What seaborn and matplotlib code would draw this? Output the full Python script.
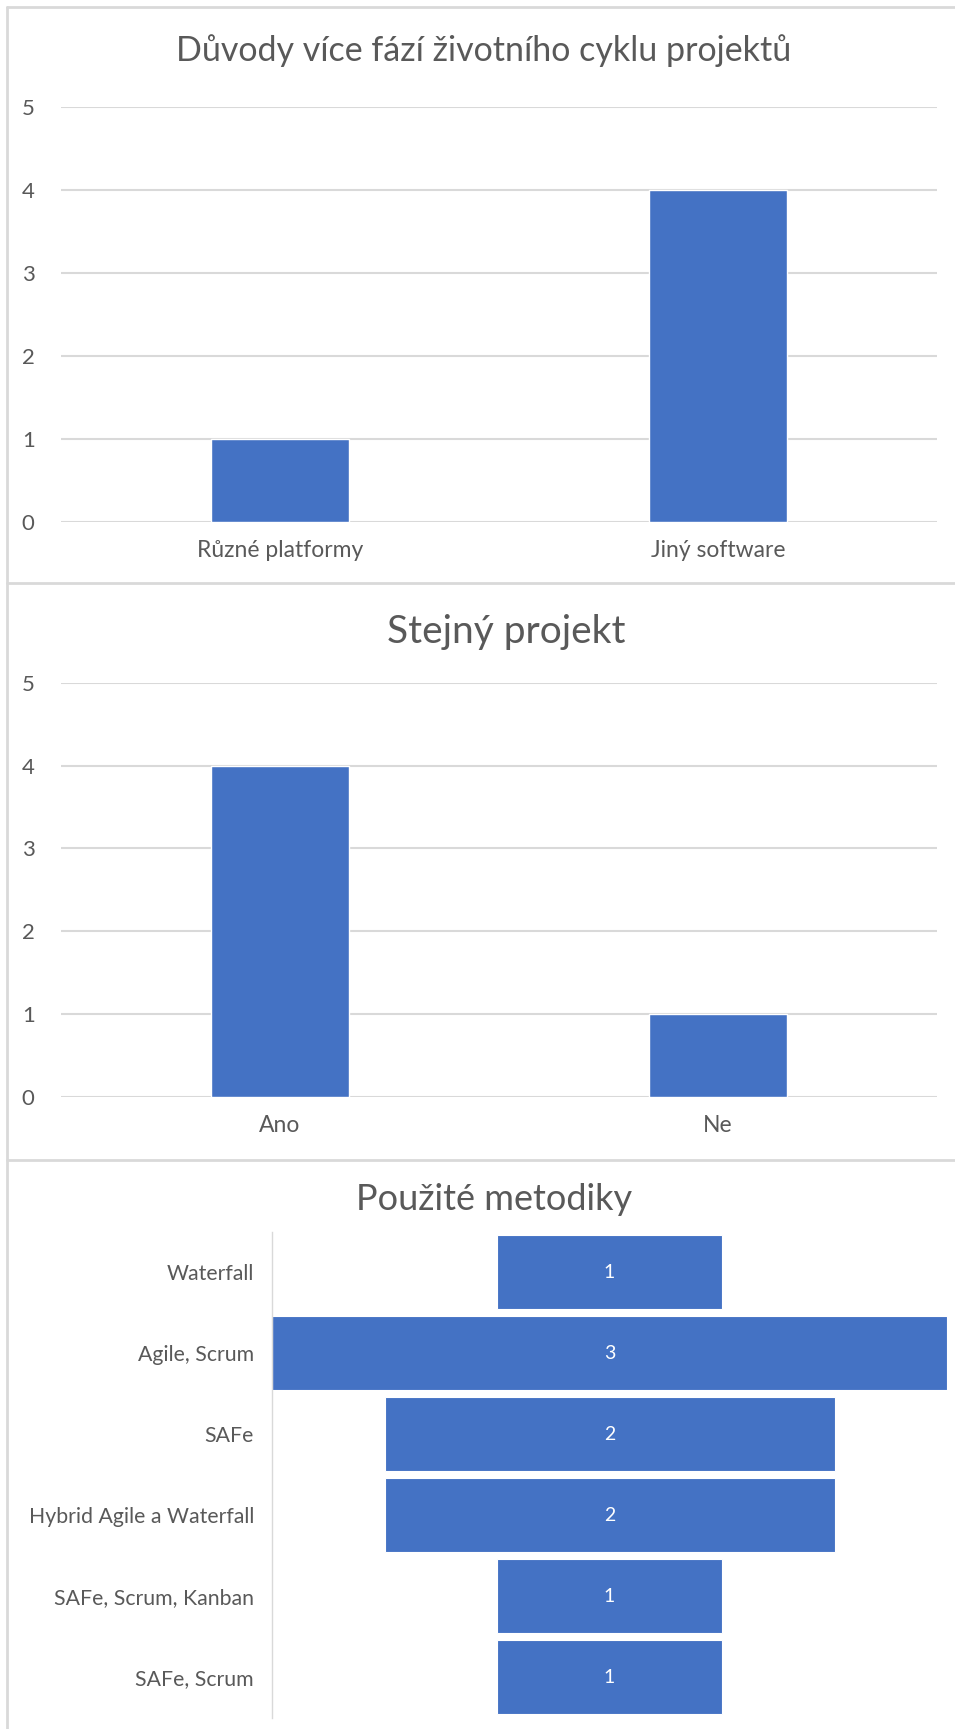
import matplotlib
matplotlib.use("Agg")
import matplotlib.pyplot as plt
import seaborn as sns
import pandas as pd
from matplotlib.lines import Line2D

# Data
duvody_labels = ["Různé platformy", "Jiný software"]
duvody_values = [1, 4]

stejny_labels = ["Ano", "Ne"]
stejny_values = [4, 1]

metodiky_labels = ["Waterfall", "Agile, Scrum", "SAFe", "Hybrid Agile a Waterfall",
                   "SAFe, Scrum, Kanban", "SAFe, Scrum"]
metodiky_values = [1, 3, 2, 2, 1, 1]

BLUE = "#4472C4"
GRID = "#D9D9D9"
TEXT = "#595959"

sns.set_style("white")
plt.rcParams["font.family"] = ["Lato", "DejaVu Sans"]

W, H = 955, 1729
fig = plt.figure(figsize=(W / 100, H / 100), dpi=100)


def column_panel(rect, labels, values, title, title_x, title_y, title_size):
    ax = fig.add_axes(rect)
    df = pd.DataFrame({"cat": labels, "val": values})
    sns.barplot(data=df, x="cat", y="val", color=BLUE, saturation=1, width=0.315, ax=ax)
    ax.set_xlim(-0.5, 1.5)
    ax.set_ylim(0, 5)
    ax.set_yticks(range(0, 6))
    ax.yaxis.grid(True, color=GRID, linewidth=1.5)
    ax.set_axisbelow(True)
    for s in ax.spines.values():
        s.set_visible(False)
    ax.set_xlabel("")
    ax.set_ylabel("")
    ax.tick_params(axis="x", length=0, pad=13, labelsize=16.5, labelcolor=TEXT)
    ax.tick_params(axis="y", length=0, pad=19, labelsize=16, labelcolor=TEXT)
    fig.text(title_x / W, 1 - title_y / H, title, ha="center", va="center",
             fontsize=title_size, color=TEXT)
    return ax


column_panel([61 / W, 1 - 521.6 / H, 876 / W, 414.6 / H],
             duvody_labels, duvody_values,
             "Důvody více fází životního cyklu projektů", 484, 51, 24.5)
column_panel([61 / W, 1 - 1097.3 / H, 876 / W, 414.7 / H],
             stejny_labels, stejny_values,
             "Stejný projekt", 506, 632, 28)

# Funnel panel
ax3 = fig.add_axes([272 / W, 1 - 1717.5 / H, 675 / W, 485.5 / H])
df3 = pd.DataFrame({"label": metodiky_labels, "val": metodiky_values})
sns.barplot(data=df3, x="val", y="label", orient="h", color=BLUE, saturation=1,
            width=0.915, ax=ax3)
vmax = max(metodiky_values)
for patch in ax3.patches:
    patch.set_x((vmax - patch.get_width()) / 2)
    patch.set_edgecolor("white")
    patch.set_linewidth(0.8)
ax3.bar_label(ax3.containers[0], label_type="center", color="white", fontsize=14)
ax3.set_xlim(0, vmax)
ax3.set_ylim(len(metodiky_values) - 0.5, -0.5)
for name, s in ax3.spines.items():
    s.set_visible(name == "left")
ax3.spines["left"].set_color(GRID)
ax3.spines["left"].set_linewidth(1.0)
ax3.spines["left"].set_linestyle((0, (2, 1)))
ax3.set_xticks([])
ax3.set_xlabel("")
ax3.set_ylabel("")
ax3.tick_params(axis="y", length=0, pad=13, labelsize=15.3, labelcolor=TEXT)
fig.text(494 / W, 1 - 1199 / H, "Použité metodiky", ha="center", va="center",
         fontsize=26, color=TEXT)

# Chart borders like stacked Excel charts
for y in (7, 583, 1160):
    fig.add_artist(Line2D([7 / W, 1], [1 - y / H, 1 - y / H], color=GRID, linewidth=2))
fig.add_artist(Line2D([7 / W, 7 / W], [0, 1 - 7 / H], color=GRID, linewidth=2))

fig.savefig("out.png", dpi=100, facecolor="white")
